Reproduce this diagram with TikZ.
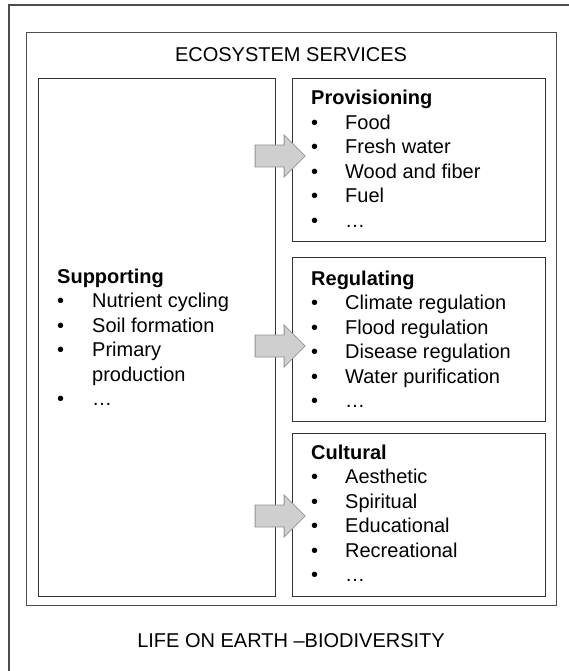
\documentclass[tikz,border=0pt]{standalone}
\usepackage{fontspec}
\setmainfont{Liberation Sans}
\usetikzlibrary{calc}
\begin{document}
\begin{tikzpicture}[x=1pt, y=-1pt,
		box/.style={draw=black!80, line width=1.1pt, anchor=north west, inner sep=0pt},
		frame/.style={draw=black!70, line width=1.4pt},
		blockarrow/.style={draw=black!42, fill=black!19, line width=0.8pt},
		list/.style={anchor=base west, inner sep=0pt},
		heading/.style={anchor=base, inner sep=0pt}]
	\tikzstyle{every node}=[font=\fontsize{20}{24.5}\selectfont]
	\useasboundingbox (0,0) rectangle (569,671);
	\draw[frame] (9,671) -- (9,5) -- (569,5);
	\node[box, frame, minimum width=530pt, minimum height=573pt] (Services) at (26,32) {};
	\node[heading] (title) at (291,62) {ECOSYSTEM SERVICES};
	\node[heading] (life) at (291,647) {LIFE ON EARTH –BIODIVERSITY};
	% the four service boxes
	\node[box, minimum width=237pt, minimum height=518pt] (supp) at (38,78) {};
	\node[box, minimum width=253pt, minimum height=163pt] (prov) at (292,78) {};
	\node[box, minimum width=253pt, minimum height=164pt] (reg) at (292,257) {};
	\node[box, minimum width=253pt, minimum height=163pt] (cult) at (292,433) {};
	% lists
	\node[list] (supptext) at (57,283) {\begin{tabular}[t]{@{}p{35pt}@{}l@{}}
		\multicolumn{2}{@{}l@{}}{\textbf{Supporting}}\\
		\textbullet & Nutrient cycling\\
		\textbullet & Soil formation\\
		\textbullet & Primary\\
		            & production\\
		\textbullet & …
	\end{tabular}};
	\node[list] (provtext) at (311,105) {\begin{tabular}[t]{@{}p{34pt}@{}l@{}}
		\multicolumn{2}{@{}l@{}}{\textbf{Provisioning}}\\
		\textbullet & Food\\
		\textbullet & Fresh water\\
		\textbullet & Wood and fiber\\
		\textbullet & Fuel\\
		\textbullet & …
	\end{tabular}};
	\node[list] (regtext) at (311,285) {\begin{tabular}[t]{@{}p{34pt}@{}l@{}}
		\multicolumn{2}{@{}l@{}}{\textbf{Regulating}}\\
		\textbullet & Climate regulation\\
		\textbullet & Flood regulation\\
		\textbullet & Disease regulation\\
		\textbullet & Water purification\\
		\textbullet & …
	\end{tabular}};
	\node[list] (culttext) at (311,459) {\begin{tabular}[t]{@{}p{34pt}@{}l@{}}
		\multicolumn{2}{@{}l@{}}{\textbf{Cultural}}\\
		\textbullet & Aesthetic\\
		\textbullet & Spiritual\\
		\textbullet & Educational\\
		\textbullet & Recreational\\
		\textbullet & …
	\end{tabular}};
	% block arrows from supporting to the others
	\foreach \y in {156,346,516}
		\draw[blockarrow] ($(supp.east |- 0,\y)+(-21,-11)$) -- ++(29,0) -- ++(0,-10)
			-- ++(21,21) -- ++(-21,21) -- ++(0,-10) -- ++(-29,0) -- cycle;
\end{tikzpicture}
\end{document}
